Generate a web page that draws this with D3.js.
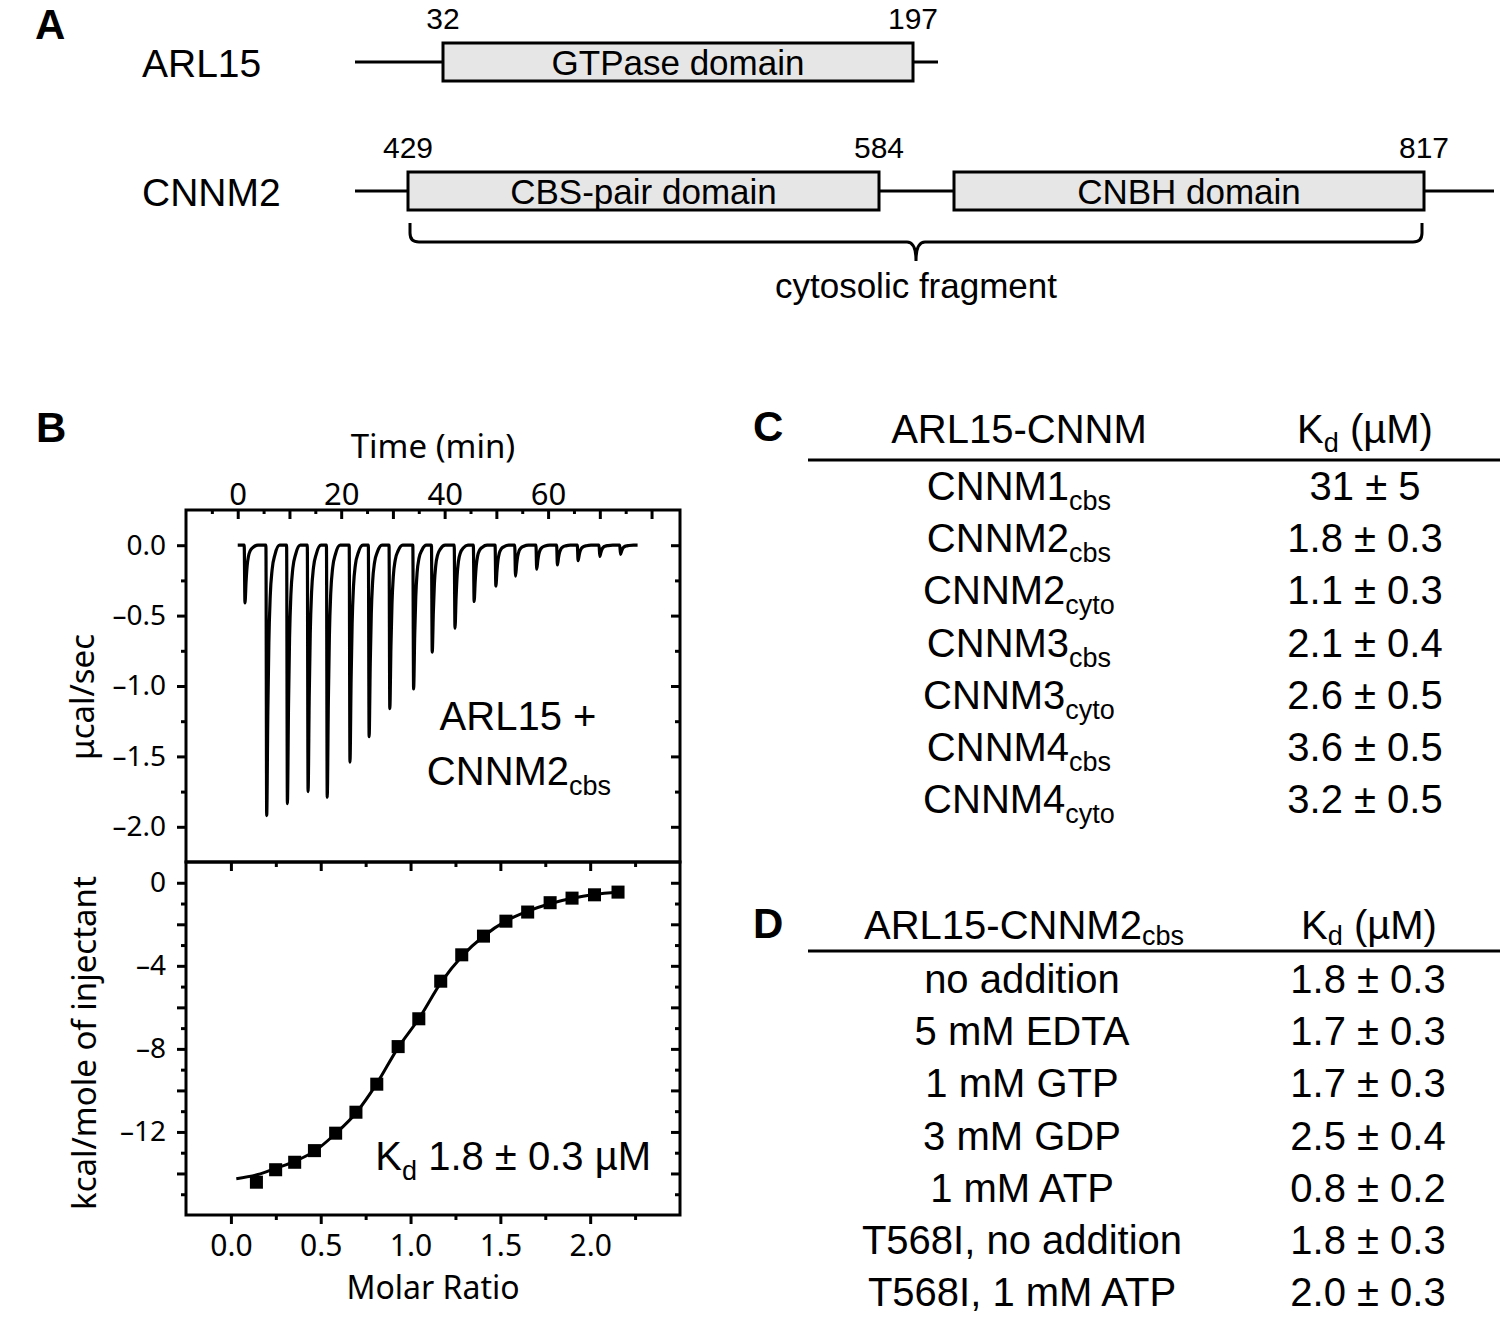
<!DOCTYPE html>
<html lang="en">
<head>
<meta charset="UTF-8">
<title>ARL15 - CNNM binding</title>
<script src="https://d3js.org/d3.v7.min.js"></script>
<style>
  body { margin: 0; background: #fff; }
  svg { display: block; background: #fff; }
  text { fill: #000; }
  .arial { font-family: 'Liberation Sans', Arial, sans-serif; }
  .axfont { font-family: 'Noto Sans', sans-serif; }
  .panel { font-family: 'Liberation Sans', Arial, sans-serif; font-weight: bold; font-size: 42px; }
  .tick line { stroke: #000; stroke-width: 3; }
  .domain { display: none; }
</style>
</head>
<body>
<svg id="fig" width="1500" height="1344"></svg>
<script>
// ---------- A: domain schematic ----------
var arl15Length = 204;
var cnnm2Length = 875;
var arl15Domains = [{ name: "GTPase domain", start: 32, end: 197 }];
var cnnm2Domains = [{ name: "CBS-pair domain", start: 429, end: 584 },
                    { name: "CNBH domain", start: 640, end: 817 }];
var arl15Marks = [32, 197];
var cnnm2Marks = [429, 584, 817];
var fragment = { name: "cytosolic fragment", start: 429, end: 817 };

// ---------- B: ITC ----------
// injections: time (min) and peak depth (ucal/sec)
var injTime = [1.4, 5.6, 9.6, 13.6, 17.3, 21.7, 25.4, 29.4, 34.0, 37.6, 42.0, 45.7, 49.9, 53.7, 57.8, 61.8, 65.8, 70.0, 74.0];
var injPeak = [-0.41, -1.92, -1.835, -1.75, -1.79, -1.54, -1.36, -1.16, -1.02, -0.76, -0.59, -0.40, -0.29, -0.22, -0.17, -0.14, -0.11, -0.08, -0.065];
var runEnd = 77.3;
// integrated heats
var molarRatio = [0.142, 0.249, 0.355, 0.465, 0.583, 0.696, 0.812, 0.931, 1.046, 1.168, 1.285, 1.406, 1.531, 1.652, 1.777, 1.899, 2.024, 2.155];
var heat = [-14.42, -13.82, -13.46, -12.90, -12.06, -11.05, -9.70, -7.89, -6.55, -4.74, -3.47, -2.57, -1.85, -1.41, -0.96, -0.74, -0.58, -0.45];
// fitted curve
var fitRatio = [0.03, 0.15, 0.25, 0.36, 0.47, 0.58, 0.70, 0.81, 0.93, 1.05, 1.17, 1.29, 1.41, 1.53, 1.65, 1.78, 1.90, 2.02, 2.16];
var fitHeat = [-14.25, -14.05, -13.75, -13.4, -12.9, -12.1, -11.05, -9.7, -7.95, -6.5, -4.8, -3.5, -2.55, -1.85, -1.38, -1.0, -0.75, -0.57, -0.45];
var timeLabels = [0, 20, 40, 60];
var rateLabels = [0, -0.5, -1, -1.5, -2];
var heatLabels = [0, -4, -8, -12];
var ratioLabels = [0, 0.5, 1, 1.5, 2];

// ---------- C, D: tables ----------
var cName = ["CNNM1", "CNNM2", "CNNM2", "CNNM3", "CNNM3", "CNNM4", "CNNM4"];
var cSub = ["cbs", "cbs", "cyto", "cbs", "cyto", "cbs", "cyto"];
var cKd = ["31 ± 5", "1.8 ± 0.3", "1.1 ± 0.3", "2.1 ± 0.4", "2.6 ± 0.5", "3.6 ± 0.5", "3.2 ± 0.5"];
var dCond = ["no addition", "5 mM EDTA", "1 mM GTP", "3 mM GDP", "1 mM ATP", "T568I, no addition", "T568I, 1 mM ATP"];
var dKd = ["1.8 ± 0.3", "1.7 ± 0.3", "1.7 ± 0.3", "2.5 ± 0.4", "0.8 ± 0.2", "1.8 ± 0.3", "2.0 ± 0.3"];

var svg = d3.select("#fig");

// ================= panel A =================
svg.append("text").attr("class", "panel").attr("x", 35).attr("y", 39).text("A");

// schematic (not to scale) piecewise residue scales
var arlX = d3.scaleLinear().domain([1, 32, 197, arl15Length]).range([355, 443, 913, 938]);
var cnnX = d3.scaleLinear().domain([1, 429, 584, 640, 817, cnnm2Length]).range([355, 408, 879, 954, 1424, 1494]);

var tracks = [
  { name: "ARL15", y: 62, x: arlX, len: arl15Length, domains: arl15Domains, marks: arl15Marks },
  { name: "CNNM2", y: 191, x: cnnX, len: cnnm2Length, domains: cnnm2Domains, marks: cnnm2Marks }
];

tracks.forEach(function (t) {
  var g = svg.append("g").attr("class", "arial");
  g.append("text").attr("x", 142).attr("y", t.y + 15).attr("font-size", 39).text(t.name);
  g.append("line").attr("x1", t.x(1)).attr("x2", t.x(t.len))
    .attr("y1", t.y).attr("y2", t.y).attr("stroke", "#000").attr("stroke-width", 3);
  g.selectAll("rect").data(t.domains).enter().append("rect")
    .attr("x", d => t.x(d.start)).attr("width", d => t.x(d.end) - t.x(d.start))
    .attr("y", t.y - 19).attr("height", 38)
    .attr("fill", "#e6e6e6").attr("stroke", "#000").attr("stroke-width", 3);
  g.selectAll("text.dom").data(t.domains).enter().append("text").attr("class", "dom")
    .attr("x", d => (t.x(d.start) + t.x(d.end)) / 2).attr("y", t.y + 13)
    .attr("text-anchor", "middle").attr("font-size", 35).text(d => d.name);
  g.selectAll("text.mark").data(t.marks).enter().append("text").attr("class", "mark")
    .attr("x", d => t.x(d)).attr("y", t.y - 33)
    .attr("text-anchor", "middle").attr("font-size", 30).text(d => d);
});

// brace under the cytosolic fragment
(function () {
  var l = cnnX(fragment.start) + 2, r = cnnX(fragment.end) - 2, m = (l + r) / 2;
  var top = 223, h = 242, tip = 261, k = 9;
  var p = d3.path();
  p.moveTo(l, top); p.lineTo(l, h - k); p.quadraticCurveTo(l, h, l + k, h);
  p.lineTo(m - k, h); p.quadraticCurveTo(m, h, m, tip);
  p.quadraticCurveTo(m, h, m + k, h); p.lineTo(r - k, h);
  p.quadraticCurveTo(r, h, r, h - k); p.lineTo(r, top);
  svg.append("path").attr("d", p.toString()).attr("fill", "none")
    .attr("stroke", "#000").attr("stroke-width", 3);
  svg.append("text").attr("class", "arial").attr("x", m).attr("y", 298)
    .attr("text-anchor", "middle").attr("font-size", 35).text(fragment.name);
})();

// ================= panel B =================
svg.append("text").attr("class", "panel").attr("x", 36).attr("y", 442).text("B");

var xTime = d3.scaleLinear().domain([-10, 85.5]).range([186, 680]);
var yRate = d3.scaleLinear().domain([-2.25, 0.25]).range([862, 510]);
var xRatio = d3.scaleLinear().domain([-0.25, 2.5]).range([186, 680]);
var yHeat = d3.scaleLinear().domain([-16, 1]).range([1215, 862]);

function minus(s) { return String(s).replace("−", "–").replace("-", "–"); }

function styleAxis(g, size) {
  g.attr("font-family", "'Noto Sans', sans-serif").attr("font-size", size);
  g.selectAll(".tick text").attr("fill", "#000");
  g.select(".domain").remove();
}

// --- top panel axes ---
var gTop = svg.append("g");
gTop.append("g").attr("transform", "translate(0,510)")
  .call(d3.axisTop(xTime).tickValues(d3.range(-5, 85, 10)).tickSize(-4).tickFormat(""))
  .call(styleAxis, 31);
gTop.append("g").attr("transform", "translate(0,510)")
  .call(d3.axisTop(xTime).tickValues(d3.range(0, 81, 10)).tickSize(-9).tickPadding(5)
    .tickFormat(d => timeLabels.includes(d) ? d : ""))
  .call(styleAxis, 31);
gTop.append("g").attr("transform", "translate(186,0)")
  .call(d3.axisLeft(yRate).tickValues([-1.75, -1.25, -0.75, -0.25]).tickSize(5).tickFormat(""))
  .call(styleAxis, 28);
gTop.append("g").attr("transform", "translate(186,0)")
  .call(d3.axisLeft(yRate).tickValues(rateLabels).tickSize(9).tickPadding(11)
    .tickFormat(d => minus(d3.format(".1f")(d))))
  .call(styleAxis, 28);
gTop.append("g").attr("transform", "translate(680,0)")
  .call(d3.axisRight(yRate).tickValues([-1.75, -1.25, -0.75, -0.25]).tickSize(-5).tickFormat(""))
  .call(styleAxis, 28);
gTop.append("g").attr("transform", "translate(680,0)")
  .call(d3.axisRight(yRate).tickValues(rateLabels).tickSize(-9).tickFormat(""))
  .call(styleAxis, 28);

// raw thermogram: each injection drawn with the same needle shape, scaled to its depth
var needle = [[-0.15, 0], [0, 1], [0.22, 0.62], [0.42, 0.36], [0.68, 0.19], [1.05, 0.09], [1.6, 0.035], [2.5, 0]];
var trace = [[0, 0]];
injTime.forEach(function (t, i) {
  needle.forEach(function (p) { trace.push([t + p[0], injPeak[i] * p[1]]); });
});
trace.push([runEnd, 0]);
svg.append("path").datum(trace)
  .attr("d", d3.line().x(d => xTime(d[0])).y(d => yRate(d[1])).curve(d3.curveMonotoneX))
  .attr("fill", "none").attr("stroke", "#000").attr("stroke-width", 3.2)
  .attr("stroke-linejoin", "round");

// --- bottom panel axes ---
var gBot = svg.append("g");
gBot.append("g").attr("transform", "translate(0,862)")
  .call(d3.axisTop(xRatio).tickValues([0.25, 0.75, 1.25, 1.75, 2.25]).tickSize(-5).tickFormat(""))
  .call(styleAxis, 30);
gBot.append("g").attr("transform", "translate(0,862)")
  .call(d3.axisTop(xRatio).tickValues(ratioLabels).tickSize(-9).tickFormat(""))
  .call(styleAxis, 30);
gBot.append("g").attr("transform", "translate(0,1215)")
  .call(d3.axisBottom(xRatio).tickValues([0.25, 0.75, 1.25, 1.75, 2.25]).tickSize(5).tickFormat(""))
  .call(styleAxis, 30);
gBot.append("g").attr("transform", "translate(0,1215)")
  .call(d3.axisBottom(xRatio).tickValues(ratioLabels).tickSize(9).tickPadding(11)
    .tickFormat(d3.format(".1f")))
  .call(styleAxis, 30);
gBot.append("g").attr("transform", "translate(186,0)")
  .call(d3.axisLeft(yHeat).tickValues(d3.range(-15, 1, 2)).tickSize(5).tickFormat(""))
  .call(styleAxis, 28);
gBot.append("g").attr("transform", "translate(186,0)")
  .call(d3.axisLeft(yHeat).tickValues(d3.range(-14, 1, 2)).tickSize(9).tickPadding(11)
    .tickFormat(d => heatLabels.includes(d) ? minus(d) : ""))
  .call(styleAxis, 28);
gBot.append("g").attr("transform", "translate(680,0)")
  .call(d3.axisRight(yHeat).tickValues(d3.range(-15, 1, 2)).tickSize(-5).tickFormat(""))
  .call(styleAxis, 28);
gBot.append("g").attr("transform", "translate(680,0)")
  .call(d3.axisRight(yHeat).tickValues(d3.range(-14, 1, 2)).tickSize(-9).tickFormat(""))
  .call(styleAxis, 28);

// fit line and squares
var fit = fitRatio.map((r, i) => [r, fitHeat[i]]);
svg.append("path").datum(fit)
  .attr("d", d3.line().x(d => xRatio(d[0])).y(d => yHeat(d[1])).curve(d3.curveMonotoneX))
  .attr("fill", "none").attr("stroke", "#000").attr("stroke-width", 3);
svg.selectAll("path.sq").data(molarRatio).enter().append("path").attr("class", "sq")
  .attr("d", d3.symbol(d3.symbolSquare).size(170))
  .attr("transform", (d, i) => "translate(" + xRatio(d) + "," + yHeat(heat[i]) + ")")
  .attr("fill", "#000");

// frames
svg.append("rect").attr("x", 186).attr("y", 510).attr("width", 494).attr("height", 352)
  .attr("fill", "none").attr("stroke", "#000").attr("stroke-width", 3);
svg.append("rect").attr("x", 186).attr("y", 862).attr("width", 494).attr("height", 353)
  .attr("fill", "none").attr("stroke", "#000").attr("stroke-width", 3);

// axis titles
var axf = svg.append("g").attr("class", "axfont").attr("font-size", 33);
axf.append("text").attr("x", 433).attr("y", 458).attr("text-anchor", "middle").text("Time (min)");
axf.append("text").attr("x", 433).attr("y", 1299).attr("text-anchor", "middle").attr("font-size", 32).text("Molar Ratio");
axf.append("text").attr("transform", "translate(94,697) rotate(-90)").attr("text-anchor", "middle").text("μcal/sec");
axf.append("text").attr("transform", "translate(96,1043) rotate(-90)").attr("text-anchor", "middle").text("kcal/mole of injectant");

// annotations
var ann = svg.append("g").attr("class", "arial").attr("font-size", 40);
ann.append("text").attr("x", 518).attr("y", 730).attr("text-anchor", "middle").text("ARL15 +");
var t2 = ann.append("text").attr("x", 519).attr("y", 785).attr("text-anchor", "middle");
t2.append("tspan").text("CNNM2");
t2.append("tspan").attr("font-size", 27).attr("dy", 10).text("cbs");
var t3 = ann.append("text").attr("x", 651).attr("y", 1170).attr("text-anchor", "end");
t3.append("tspan").text("K");
t3.append("tspan").attr("font-size", 27).attr("dy", 10).text("d");
t3.append("tspan").attr("dy", -10).text(" 1.8 ± 0.3 µM");

// ================= panels C, D =================
function kdHeader(g, x, y, shift) {
  var t = g.append("text").attr("x", x).attr("y", y).attr("text-anchor", "middle");
  t.append("tspan").text("K");
  t.append("tspan").attr("font-size", 27).attr("dy", shift).text("d");
  t.append("tspan").attr("dy", -shift).text(" (µM)");
}

// C
svg.append("text").attr("class", "panel").attr("x", 753).attr("y", 441).text("C");
var gc = svg.append("g").attr("class", "arial").attr("font-size", 40);
gc.append("text").attr("x", 1019).attr("y", 443).attr("text-anchor", "middle").text("ARL15-CNNM");
kdHeader(gc, 1365, 443, 9);
gc.append("line").attr("x1", 808).attr("x2", 1500).attr("y1", 460).attr("y2", 460)
  .attr("stroke", "#000").attr("stroke-width", 3);
var cy = d3.scaleLinear().domain([0, cName.length - 1]).range([500, 813]);
var cl = gc.selectAll("text.row").data(cName).enter().append("text").attr("class", "row")
  .attr("x", 1019).attr("y", (d, i) => cy(i)).attr("text-anchor", "middle");
cl.append("tspan").text(d => d);
cl.append("tspan").attr("font-size", 27).attr("dy", 10).text((d, i) => cSub[i]);
gc.selectAll("text.val").data(cKd).enter().append("text").attr("class", "val")
  .attr("x", 1365).attr("y", (d, i) => cy(i)).attr("text-anchor", "middle").text(d => d);

// D
svg.append("text").attr("class", "panel").attr("x", 753).attr("y", 938).text("D");
var gd = svg.append("g").attr("class", "arial").attr("font-size", 40);
var dh = gd.append("text").attr("x", 1024).attr("y", 939).attr("text-anchor", "middle");
dh.append("tspan").text("ARL15-CNNM2");
dh.append("tspan").attr("font-size", 27).attr("dy", 6).text("cbs");
kdHeader(gd, 1369, 939, 6);
gd.append("line").attr("x1", 808).attr("x2", 1500).attr("y1", 951).attr("y2", 951)
  .attr("stroke", "#000").attr("stroke-width", 3);
var dy = d3.scaleLinear().domain([0, dCond.length - 1]).range([993, 1306]);
gd.selectAll("text.row").data(dCond).enter().append("text").attr("class", "row")
  .attr("x", 1022).attr("y", (d, i) => dy(i)).attr("text-anchor", "middle").text(d => d);
gd.selectAll("text.val").data(dKd).enter().append("text").attr("class", "val")
  .attr("x", 1368).attr("y", (d, i) => dy(i)).attr("text-anchor", "middle").text(d => d);
</script>
</body>
</html>
